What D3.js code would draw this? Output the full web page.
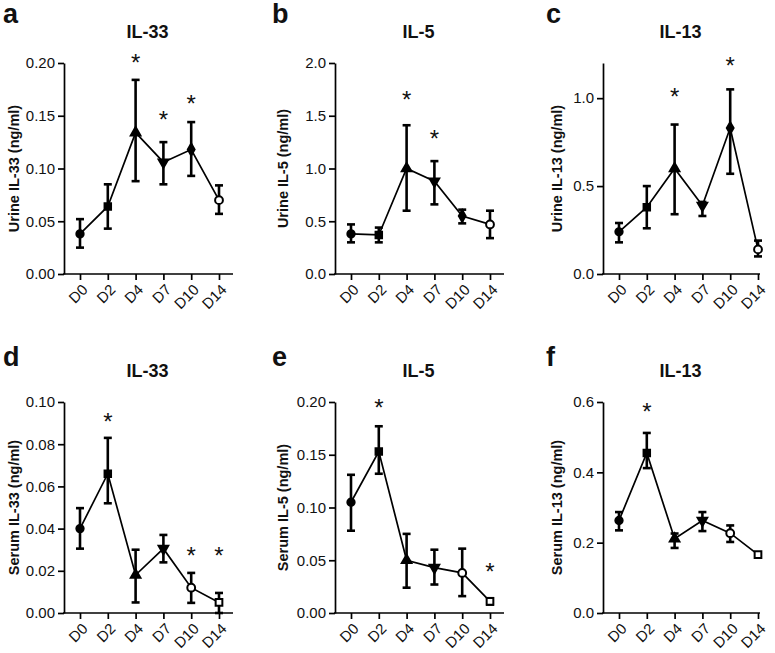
<!DOCTYPE html>
<html>
<head>
<meta charset="utf-8">
<script src="https://cdn.jsdelivr.net/npm/d3@7"></script>
<style>
  body { margin: 0; background: #fff; }
  svg { display: block; font-family: "Liberation Sans", Arial, sans-serif; }
</style>
</head>
<body>
<div id="chart"></div>
<script>
'use strict';

// categories (days)
const days = ['D0', 'D2', 'D4', 'D7', 'D10', 'D14'];

// panel letters, titles, y titles
const letters = ['a', 'b', 'c', 'd', 'e', 'f'];
const titles = ['IL-33', 'IL-5', 'IL-13', 'IL-33', 'IL-5', 'IL-13'];
const yTitles = ['Urine IL-33 (ng/ml)', 'Urine IL-5 (ng/ml)', 'Urine IL-13 (ng/ml)',
                 'Serum IL-33 (ng/ml)', 'Serum IL-5 (ng/ml)', 'Serum IL-13 (ng/ml)'];

// y axis max and tick values
const yMax = [0.20, 2.0, 1.2, 0.10, 0.20, 0.6];
const yTicks = [
  [0, 0.05, 0.10, 0.15, 0.20],
  [0, 0.5, 1.0, 1.5, 2.0],
  [0, 0.5, 1.0],
  [0, 0.02, 0.04, 0.06, 0.08, 0.10],
  [0, 0.05, 0.10, 0.15, 0.20],
  [0, 0.2, 0.4, 0.6]
];
const yFormat = ['.2f', '.1f', '.1f', '.2f', '.2f', '.1f'];

// means and error bar ends, one row per panel
const means = [
  [0.038, 0.064, 0.134, 0.106, 0.118, 0.070],
  [0.38, 0.37, 1.00, 0.88, 0.55, 0.47],
  [0.24, 0.38, 0.60, 0.39, 0.83, 0.14],
  [0.040, 0.066, 0.018, 0.0305, 0.012, 0.005],
  [0.105, 0.153, 0.050, 0.043, 0.038, 0.011],
  [0.263, 0.455, 0.211, 0.263, 0.227, 0.166]
];
const lows = [
  [0.025, 0.043, 0.088, 0.085, 0.093, 0.057],
  [0.30, 0.30, 0.60, 0.66, 0.48, 0.34],
  [0.18, 0.26, 0.34, 0.33, 0.57, 0.10],
  [0.0305, 0.052, 0.005, 0.024, 0.0048, 0.0],
  [0.078, 0.132, 0.024, 0.027, 0.016, 0.008],
  [0.235, 0.412, 0.185, 0.233, 0.202, 0.159]
];
const highs = [
  [0.052, 0.085, 0.184, 0.125, 0.144, 0.084],
  [0.47, 0.44, 1.41, 1.07, 0.61, 0.60],
  [0.29, 0.50, 0.85, 0.41, 1.05, 0.19],
  [0.0497, 0.083, 0.030, 0.037, 0.019, 0.0095],
  [0.131, 0.177, 0.075, 0.060, 0.061, 0.014],
  [0.287, 0.512, 0.226, 0.287, 0.249, 0.172]
];

// significance stars: [day, height in data units]
const stars = [
  [['D4', 0.204], ['D7', 0.150], ['D10', 0.165]],
  [['D4', 1.69], ['D7', 1.32]],
  [['D4', 1.03], ['D10', 1.206]],
  [['D2', 0.0924], ['D10', 0.029], ['D14', 0.029]],
  [['D2', 0.198], ['D14', 0.043]],
  [['D2', 0.583]]
];

// marker per day, top row and bottom row (GraphPad style)
const symbolsTop = ['circle', 'square', 'triUp', 'triDown', 'diamond', 'openCircle'];
const symbolsBottom = ['circle', 'square', 'triUp', 'triDown', 'openCircle', 'openSquare'];

//#region layout
const W = 775, H = 653;
const colAxisX = [64, 335, 603];
const colAxisEnd = [233, 504, 760];
const colLetterX = [3, 272, 546];
const colYTitleX = [14, 283, 557];
const rowTop = [63, 402];
const rowBottom = [274, 613];
const rowLetterY = [23, 366];
//#endregion

const svg = d3.select('#chart').append('svg').attr('width', W).attr('height', H);

function drawSymbol(g, kind, cx, cy) {
  let s, rot = 0, fill = '#000';
  if (kind === 'circle') s = d3.symbol(d3.symbolCircle, 42);
  else if (kind === 'square') s = d3.symbol(d3.symbolSquare, 42);
  else if (kind === 'triUp') s = d3.symbol(d3.symbolTriangle, 40);
  else if (kind === 'triDown') { s = d3.symbol(d3.symbolTriangle, 40); rot = 180; }
  else if (kind === 'diamond') s = d3.symbol(d3.symbolDiamond, 40);
  else if (kind === 'openCircle') { s = d3.symbol(d3.symbolCircle, 48); fill = '#fff'; }
  else if (kind === 'openSquare') { s = d3.symbol(d3.symbolSquare, 45); fill = '#fff'; }
  g.append('path')
    .attr('d', s())
    .attr('transform', `translate(${cx},${cy}) rotate(${rot})`)
    .attr('fill', fill)
    .attr('stroke', '#000')
    .attr('stroke-width', 2);
}

for (let p = 0; p < 6; p++) {
  const col = p % 3, row = Math.floor(p / 3);
  const left = colAxisX[col], right = colAxisEnd[col];
  const top = rowTop[row], bottom = rowBottom[row];
  const g = svg.append('g');

  const x = d3.scalePoint().domain(days).range([left + 16, left + 155]);
  const y = d3.scaleLinear().domain([0, yMax[p]]).range([bottom, top]);

  // panel letter and title
  g.append('text').attr('x', colLetterX[col]).attr('y', rowLetterY[row])
    .attr('font-size', 27).attr('font-weight', 'bold').attr('fill', '#111').text(letters[p]);
  g.append('text').attr('x', (left + right) / 2 - 1).attr('y', top - 25)
    .attr('text-anchor', 'middle').attr('font-size', 18).attr('font-weight', 'bold')
    .attr('fill', '#111').text(titles[p]);

  // y title
  g.append('text')
    .attr('transform', `translate(${colYTitleX[col] + 5},${(top + bottom) / 2}) rotate(-90)`)
    .attr('text-anchor', 'middle').attr('font-size', 14.5).attr('font-weight', 'bold')
    .attr('fill', '#111').text(yTitles[p]);

  // y axis
  const yAxis = g.append('g').attr('transform', `translate(${left},0)`)
    .call(d3.axisLeft(y).tickValues(yTicks[p]).tickFormat(d3.format(yFormat[p]))
      .tickSize(6).tickSizeOuter(0).tickPadding(3));
  yAxis.selectAll('path, line').attr('stroke', '#000').attr('stroke-width', 1.7);
  yAxis.selectAll('text').attr('font-size', 15).attr('fill', '#111');

  // x axis: ticks from the axis, labels drawn by hand at 45 degrees
  const xAxis = g.append('g').attr('transform', `translate(0,${bottom})`)
    .call(d3.axisBottom(x).tickSize(6).tickSizeOuter(0).tickFormat(''));
  xAxis.select('.domain').remove();
  xAxis.append('line').attr('x1', left - 1).attr('x2', right).attr('y1', 0).attr('y2', 0);
  xAxis.selectAll('line').attr('stroke', '#000').attr('stroke-width', 1.7);
  g.selectAll('.xlab').data(days).join('text')
    .attr('class', 'xlab')
    .attr('transform', d => `translate(${x(d) + 1},${bottom + 9}) rotate(-45)`)
    .attr('text-anchor', 'end')
    .attr('dy', '0.72em')
    .attr('font-size', 15).attr('fill', '#111')
    .text(d => d);

  // connecting line
  const pts = days.map((d, i) => ({ d: d, m: means[p][i], lo: lows[p][i], hi: highs[p][i] }));
  g.append('path')
    .attr('d', d3.line().x(d => x(d.d)).y(d => y(d.m))(pts))
    .attr('fill', 'none').attr('stroke', '#000').attr('stroke-width', 1.7);

  // error bars
  const eb = g.append('g').attr('stroke', '#000').attr('stroke-width', 2.6).attr('fill', 'none');
  pts.forEach(d => {
    const cx = x(d.d);
    eb.append('line').attr('x1', cx).attr('x2', cx).attr('y1', y(d.lo)).attr('y2', y(d.hi));
    eb.append('line').attr('x1', cx - 4).attr('x2', cx + 4).attr('y1', y(d.lo)).attr('y2', y(d.lo));
    eb.append('line').attr('x1', cx - 4).attr('x2', cx + 4).attr('y1', y(d.hi)).attr('y2', y(d.hi));
  });

  // markers
  const syms = row === 0 ? symbolsTop : symbolsBottom;
  pts.forEach((d, i) => drawSymbol(g, syms[i], x(d.d), y(d.m)));

  // stars
  stars[p].forEach(s => {
    g.append('text').attr('x', x(s[0])).attr('y', y(s[1]) + 12)
      .attr('text-anchor', 'middle').attr('font-size', 24).attr('fill', '#111').text('*');
  });
}
</script>
</body>
</html>
